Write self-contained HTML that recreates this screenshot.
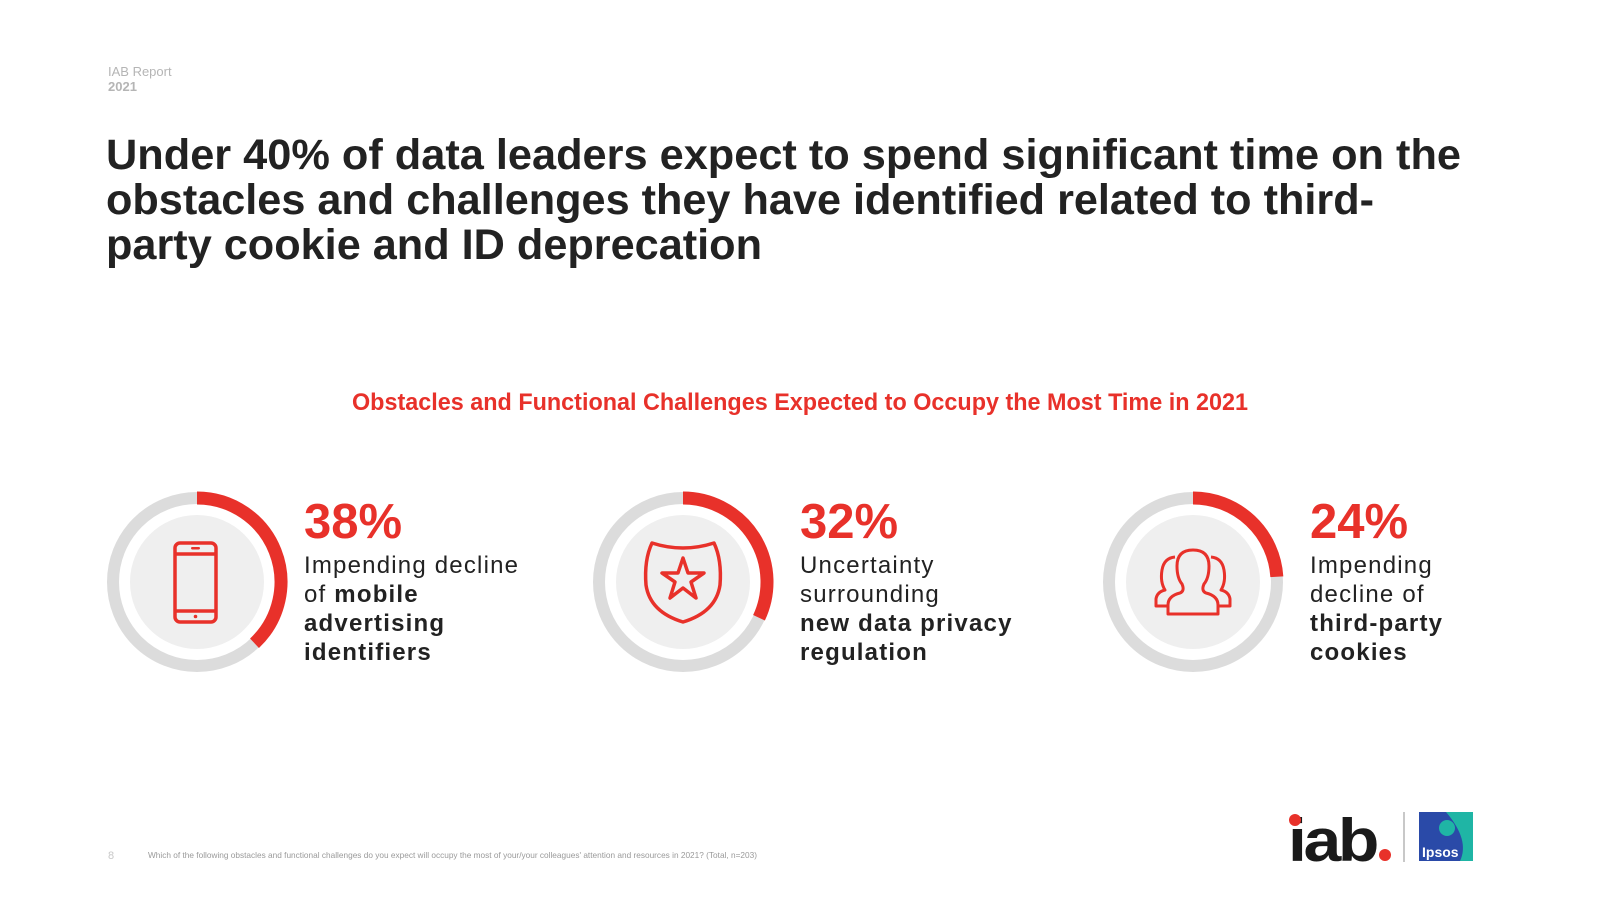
<!DOCTYPE html>
<html><head><meta charset="utf-8"><style>
html,body{margin:0;padding:0;background:#fff;}
svg{display:block;font-family:"Liberation Sans",Arial,sans-serif;}
</style></head><body>
<svg id="s" width="1600" height="900" viewBox="0 0 1600 900">
<text x="108" y="76" font-size="13" fill="#b5b5b5">IAB Report</text>
<text x="108" y="91" font-size="13" font-weight="bold" fill="#b5b5b5">2021</text>
<g font-size="43" font-weight="bold" fill="#222">
<text x="106" y="169" textLength="1355" lengthAdjust="spacingAndGlyphs">Under 40% of data leaders expect to spend significant time on the</text>
<text x="106" y="214" textLength="1268" lengthAdjust="spacingAndGlyphs">obstacles and challenges they have identified related to third-</text>
<text x="106" y="259" textLength="656" lengthAdjust="spacingAndGlyphs">party cookie and ID deprecation</text>
</g>
<text x="352" y="410" font-size="24" font-weight="bold" fill="#e8312a" textLength="896" lengthAdjust="spacingAndGlyphs">Obstacles and Functional Challenges Expected to Occupy the Most Time in 2021</text>
<g id="charts"></g>

<g fill="none" stroke="#e8312a" stroke-width="3.5">
<rect x="175" y="543" width="41" height="79" rx="5"/>
<line x1="176" y1="554" x2="215" y2="554"/><line x1="176" y1="611" x2="215" y2="611"/>
<rect x="191" y="547" width="9" height="2.5" rx="1.2" fill="#e8312a" stroke="none"/>
<circle cx="195.5" cy="616.5" r="1.8" fill="#e8312a" stroke="none"/>
</g>
<g fill="none" stroke="#e8312a" stroke-width="3.5" stroke-linejoin="round">
<path d="M652 543 Q683 553 714 543 Q722 560 720 585 Q716 612 683 622 Q650 612 646 585 Q644 560 652 543 Z"/>
<path d="M683 558 L688 573 L704 573 L691 582 L696 598 L683 588 L670 598 L675 582 L662 573 L678 573 Z"/>
</g>
<g fill="none" stroke="#e8312a" stroke-width="3" stroke-linejoin="round">
<path d="M1168 614 L1168 605 Q1168 596 1180 593 Q1185 591 1182 584 Q1177 578 1177 566 Q1177 550 1193 550 Q1209 550 1209 566 Q1209 578 1204 584 Q1201 591 1206 593 Q1218 596 1218 605 L1218 614 Z"/>
<path d="M1168 606 L1156 606 L1156 599 Q1157 592 1165 590 Q1160 582 1162 570 Q1164 558 1175 557"/>
<path d="M1218 606 L1230 606 L1230 599 Q1229 592 1221 590 Q1226 582 1224 570 Q1222 558 1211 557"/>
</g>

<text x="108" y="859" font-size="11" fill="#c8c8c8">8</text>
<text x="148" y="858" font-size="8.5" fill="#9a9a9a" textLength="609" lengthAdjust="spacingAndGlyphs">Which of the following obstacles and functional challenges do you expect will occupy the most of your/your colleagues' attention and resources in 2021? (Total, n=203)</text>

<g>
<text x="1288" y="861" font-size="60" font-weight="bold" fill="#1a1a1a" letter-spacing="-3" textLength="88" lengthAdjust="spacingAndGlyphs">iab</text>
<circle cx="1295" cy="820" r="6" fill="#e8312a"/>
<circle cx="1385" cy="855" r="6" fill="#e8312a"/>
</g>
<rect x="1403" y="812" width="2" height="50" fill="#c8c8c8"/>
<g>
<rect x="1419" y="812" width="54" height="49" fill="#2a4aa8"/>
<path d="M1446 812 L1473 812 L1473 861 L1460 861 Q1470 840 1446 812 Z" fill="#1fb5a5"/>
<circle cx="1447" cy="828" r="8" fill="#1fb5a5"/>
<text x="1422" y="857" font-size="14" font-weight="bold" fill="#fff">Ipsos</text>
</g>
</svg>
<script>
const categories = ["mobile-advertising-identifiers","data-privacy-regulation","third-party-cookies"];
const percents = [38, 32, 24];
const descPlain = [["Impending decline","of "],["Uncertainty","surrounding"],["Impending","decline of"]];
const descBold = [["mobile","advertising","identifiers"],["new data privacy","regulation"],["third-party","cookies"]];

const NS="http://www.w3.org/2000/svg";
const g=document.getElementById('charts');
const cxs=[197,683,1193], cy=582, R=84, disc=67, tx=[304,800,1310];
function mk(t,a,p){const e=document.createElementNS(NS,t);for(const k in a)e.setAttribute(k,a[k]);p.appendChild(e);return e;}
function arcPath(cx,cy,r,frac){
  const a=frac*2*Math.PI;
  const x=cx+r*Math.sin(a), y=cy-r*Math.cos(a);
  return `M${cx} ${cy-r} A${r} ${r} 0 ${frac>0.5?1:0} 1 ${x.toFixed(2)} ${y.toFixed(2)}`;
}
percents.forEach((p,i)=>{
  const cx=cxs[i];
  const grp=mk('g',{},g);
  
  
  const ring=mk('circle',{cx:cx,cy:cy,r:R,fill:'none',stroke:'#dcdcdc','stroke-width':12},grp);
  
  
  const d=mk('circle',{cx:cx,cy:cy,r:disc,fill:'#efefef'},grp);
  
  
  const arc=mk('path',{d:arcPath(cx,cy,R,p/100),fill:'none',stroke:'#e8312a','stroke-width':13},grp);
  
  
  const pt=mk('text',{x:tx[i],y:538,'font-size':49,'font-weight':'bold',fill:'#e8312a'},grp);
  pt.textContent=p+'%';
  
  
  const lines=[];
  const plain=descPlain[i], bold=descBold[i];
  if(i===0){lines.push([[plain[0],0]]);lines.push([[plain[1],0],[bold[0],1]]);lines.push([[bold[1],1]]);lines.push([[bold[2],1]]);}
  else{plain.forEach(s=>lines.push([[s,0]]));bold.forEach(s=>lines.push([[s,1]]));}
  const dt=mk('text',{x:tx[i],y:573,'font-size':24,fill:'#222','letter-spacing':1.2},grp);
  
  
  lines.forEach((ln,j)=>{
    ln.forEach((seg,k)=>{
      const a={};
      if(k===0){a.x=tx[i];a.y=573+j*29;}
      if(seg[1])a['font-weight']='bold';
      const ts=mk('tspan',a,dt);ts.textContent=seg[0];
    });
  });
});
</script>
</body></html>
